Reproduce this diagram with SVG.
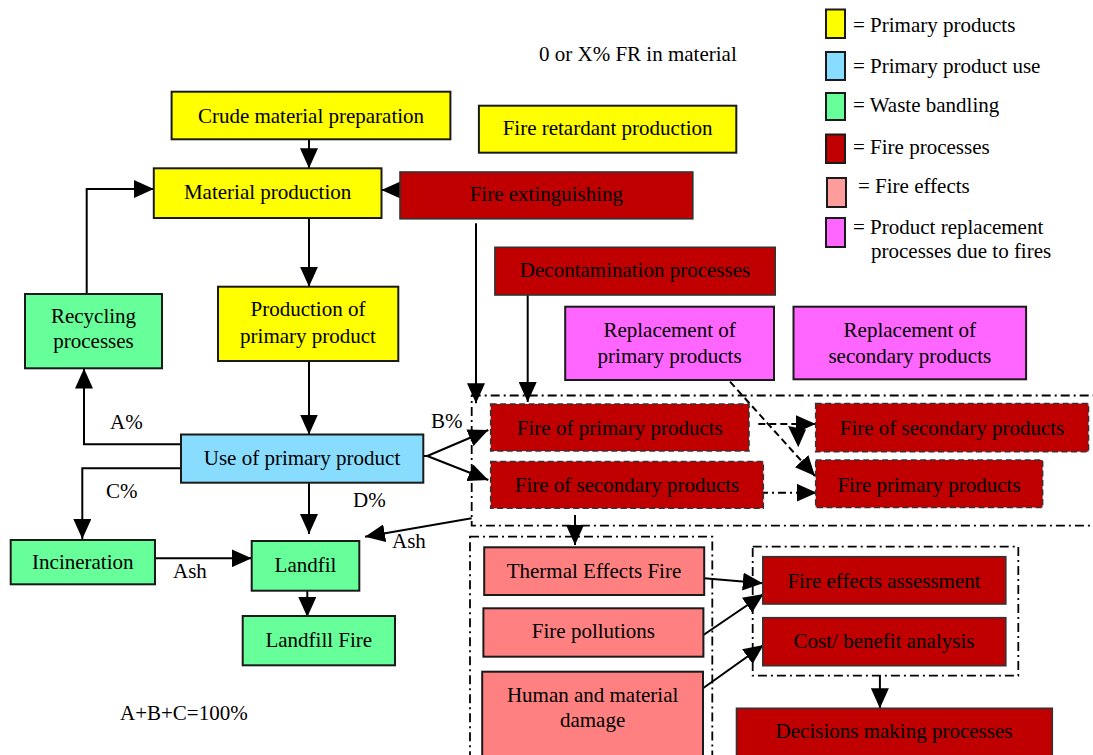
<svg xmlns="http://www.w3.org/2000/svg" width="1093" height="755" viewBox="0 0 1093 755">
<defs>
<marker id="ah" markerUnits="userSpaceOnUse" markerWidth="20" markerHeight="18" refX="20" refY="9" orient="auto" viewBox="0 0 20 18">
<path d="M0,0 L20,9 L0,18 z" fill="#000" stroke="none"/>
</marker>
</defs>
<style>
text{font-family:"Liberation Serif","Times New Roman",serif;font-size:21px;fill:#000}
.c{text-anchor:middle}
.b{stroke:#1a1a1a;stroke-width:2}
.y{fill:#FFFF00}
.u{fill:#88DDFF}
.g{fill:#66FF99}
.r{fill:#C00000;stroke:#333;stroke-width:1.6}
.p{fill:#FF8080}
.lp{fill:#FF9C9C}
.m{fill:#FF66FF}
.dash{stroke-dasharray:6 3.5}
.grp{fill:none;stroke:#000;stroke-width:1.8;stroke-dasharray:9 4 2 4}
.ln{fill:none;stroke:#000;stroke-width:2}
.arr{marker-end:url(#ah)}
</style>
<rect width="1093" height="755" fill="#fff"/>

<g id="legend">
<rect x="826" y="9.5" width="19" height="28.5" class="y b"/>
<text x="853" y="32">= Primary products</text>
<rect x="826" y="52" width="19" height="28" class="u b"/>
<text x="853" y="73">= Primary product use</text>
<rect x="826" y="93" width="19" height="27" class="g b"/>
<text x="853" y="112">= Waste bandling</text>
<rect x="826" y="134.5" width="19" height="28.5" class="b" fill="#C00000"/>
<text x="853" y="154">= Fire processes</text>
<rect x="827" y="178" width="19" height="29" class="lp b"/>
<text x="858" y="193">= Fire effects</text>
<rect x="826" y="218" width="19" height="29" class="m b"/>
<text x="853" y="234">= Product replacement</text>
<text x="871" y="258">processes due to fires</text>
</g>

<g id="labels">
<text x="539" y="61">0 or X% FR in material</text>
<text x="110" y="429">A%</text>
<text x="431" y="428">B%</text>
<text x="106" y="498">C%</text>
<text x="353" y="507">D%</text>
<text x="173" y="578">Ash</text>
<text x="392" y="548">Ash</text>
<text x="120" y="720">A+B+C=100%</text>
</g>

<g id="groups">
<rect x="471.7" y="395.5" width="640" height="130.2" class="grp"/>
<rect x="470" y="536.7" width="242.3" height="240" class="grp"/>
<rect x="752.7" y="546.7" width="265.6" height="129" class="grp"/>
</g>

<g id="connectors">
<line x1="309" y1="139.5" x2="309" y2="168.3" class="ln arr"/>
<line x1="400" y1="190" x2="381.5" y2="190" class="ln arr"/>
<path d="M86.7,294 V189 H153.8" class="ln arr"/>
<line x1="309" y1="218" x2="309" y2="286.7" class="ln arr"/>
<line x1="309" y1="361" x2="309" y2="434.5" class="ln arr"/>
<path d="M181,444.3 H84 V368.5" class="ln arr"/>
<path d="M181,468.3 H82.3 V539" class="ln arr"/>
<line x1="309" y1="482.7" x2="309" y2="534" class="ln arr"/>
<line x1="155" y1="558.3" x2="251.7" y2="558.3" class="ln arr"/>
<line x1="307.3" y1="583" x2="307.3" y2="617" class="ln arr"/>
<line x1="471.7" y1="518.3" x2="365" y2="536.7" class="ln arr"/>
<path d="M423.3,456 H427.3" class="ln"/>
<line x1="427.3" y1="456" x2="488.3" y2="430" class="ln arr"/>
<line x1="427.3" y1="456" x2="488.3" y2="480" class="ln arr"/>
<line x1="476" y1="223.3" x2="476" y2="403.3" class="ln arr"/>
<line x1="527.7" y1="295" x2="527.7" y2="402" class="ln arr"/>
<line x1="758.3" y1="424" x2="815.7" y2="424" class="ln arr" stroke-dasharray="7 4"/>
<line x1="730" y1="381.7" x2="815" y2="476" class="ln arr" stroke-dasharray="7 4"/>
<polygon points="788,426 806,429.5 798.3,447.3" fill="#000"/>
<line x1="760" y1="492.7" x2="816.7" y2="492.7" class="ln arr" stroke-dasharray="8 4 2 4"/>
<line x1="575" y1="515" x2="575" y2="545" class="ln arr"/>
<line x1="704.2" y1="578.3" x2="762.8" y2="583.3" class="ln arr"/>
<line x1="703.4" y1="635" x2="763.6" y2="594" class="ln arr"/>
<line x1="703" y1="688.3" x2="763.6" y2="645" class="ln arr"/>
<line x1="879.9" y1="675.7" x2="879.9" y2="708.3" class="ln arr"/>
</g>

<g id="crude"><rect x="171.6" y="91.7" width="278.8" height="47.6" class="y b"/><text x="311" y="123" class="c">Crude material preparation</text></g>
<g id="fire-retardant"><rect x="478.9" y="105.7" width="257.4" height="47" class="y b"/><text x="607.6" y="135" class="c">Fire retardant production</text></g>
<g id="material"><rect x="153.8" y="168.3" width="227.7" height="49.7" class="y b"/><text x="267.6" y="199" class="c">Material production</text></g>
<g id="fire-ext"><rect x="400" y="172" width="292.8" height="46.8" class="r"/><text x="546.4" y="201" class="c">Fire extinguishing</text></g>
<g id="decon"><rect x="494.9" y="247.3" width="280.3" height="47.7" class="r"/><text x="635" y="277" class="c">Decontamination processes</text></g>
<g id="recycling"><rect x="25" y="294" width="137" height="74.3" class="g b"/><text x="93.5" y="323.3" class="c">Recycling</text><text x="93.5" y="348.3" class="c">processes</text></g>
<g id="production"><rect x="218" y="286.7" width="180.3" height="74.3" class="y b"/><text x="308" y="316" class="c">Production of</text><text x="308" y="342.7" class="c">primary product</text></g>
<g id="repl-primary"><rect x="565.2" y="306.7" width="208.8" height="73.3" class="m b"/><text x="669.6" y="336.7" class="c">Replacement of</text><text x="669.6" y="362.7" class="c">primary products</text></g>
<g id="repl-secondary"><rect x="793.5" y="306.7" width="232.6" height="72.6" class="m b"/><text x="909.8" y="336.7" class="c">Replacement of</text><text x="909.8" y="362.7" class="c">secondary products</text></g>
<g id="use"><rect x="181" y="434.5" width="242.3" height="48.2" class="u b"/><text x="302" y="465" class="c">Use of primary product</text></g>
<g id="fire-primary"><rect x="490.7" y="404" width="258.3" height="47" class="r dash" stroke="#000"/><text x="619.8" y="435" class="c">Fire of primary products</text></g>
<g id="fire-secondary"><rect x="490.7" y="461.5" width="272.6" height="46.8" class="r dash"/><text x="627" y="492" class="c">Fire of secondary products</text></g>
<g id="fire-secondary-2"><rect x="815.7" y="403.5" width="272.8" height="48.2" class="r dash"/><text x="952" y="435" class="c">Fire of secondary products</text></g>
<g id="fire-primary-2"><rect x="815.7" y="460" width="226.9" height="47.5" class="r dash"/><text x="929" y="492" class="c">Fire primary products</text></g>
<g id="incineration"><rect x="10.7" y="540" width="144.3" height="44.3" class="g b"/><text x="82.8" y="569.3" class="c">Incineration</text></g>
<g id="landfil"><rect x="251.7" y="541" width="107.6" height="49.7" class="g b"/><text x="305.5" y="571.7" class="c">Landfil</text></g>
<g id="landfill-fire"><rect x="242.7" y="616" width="152.3" height="49.3" class="g b"/><text x="318.8" y="646.7" class="c">Landfill Fire</text></g>
<g id="thermal"><rect x="484.2" y="547.3" width="220" height="47.7" class="p b"/><text x="594" y="578.3" class="c">Thermal Effects Fire</text></g>
<g id="pollutions"><rect x="483.4" y="608.3" width="220" height="48.4" class="p b"/><text x="593.4" y="638.3" class="c">Fire pollutions</text></g>
<g id="damage"><rect x="482.2" y="671.7" width="220.8" height="90" class="p b"/><text x="592.6" y="701.7" class="c">Human and material</text><text x="592.6" y="726.7" class="c">damage</text></g>
<g id="assessment"><rect x="762.8" y="556.7" width="243" height="47.3" class="r"/><text x="884" y="588.3" class="c">Fire effects assessment</text></g>
<g id="cost"><rect x="762.8" y="617.7" width="243" height="48" class="r"/><text x="884" y="648.3" class="c">Cost/ benefit analysis</text></g>
<g id="decisions"><rect x="736.5" y="708.3" width="315.8" height="60" class="r"/><text x="894" y="738.3" class="c">Decisions making processes</text></g>
</svg>
